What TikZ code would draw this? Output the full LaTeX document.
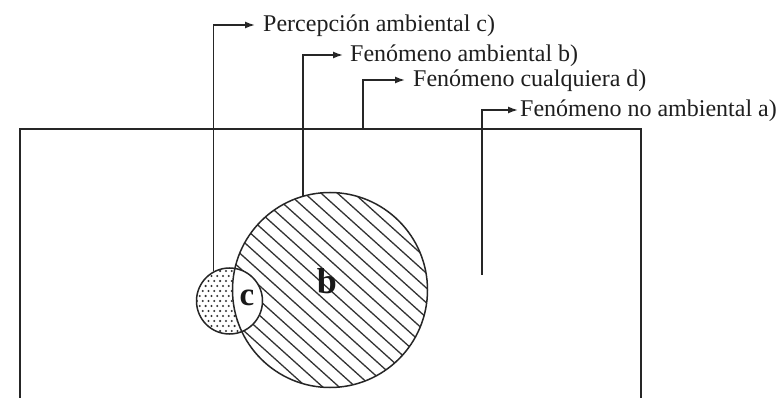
\documentclass[tikz,border=0pt]{standalone}
\usepackage{fontspec}
\setmainfont{Liberation Serif}
\usetikzlibrary{arrows.meta}
\begin{document}
\begin{tikzpicture}[x=1pt,y=-1pt,
  ink/.style={draw=black!85, line width=1.5pt},
  leader/.style={ink, -{Latex[length=10pt,width=7pt]}},
  lbl/.style={anchor=west, inner ysep=0pt, text height=18pt, text depth=4pt,
              font=\fontsize{24}{28}\selectfont, text=black!88},
  hatchline/.style={draw=black!80, line width=1.3pt},
  ring/.style={circle, draw=black!85, line width=1.5pt, inner sep=0pt},
  letter/.style={font=\bfseries\fontsize{36}{40}\selectfont, text=black!90, inner sep=0pt}]
\clip (0,0) rectangle (777,398);
\fill[white] (0,0) rectangle (777,398);
% frame (fenomeno cualquiera)
\node[draw=black!85, line width=2pt, minimum width=621pt, minimum height=300pt,
      anchor=north west, inner sep=0pt] (R) at (19,128) {};
% hatching of b
\begin{scope}
  \clip (330,290) circle (97.5pt);
  \foreach \k in {-10,...,10}
    \draw[hatchline] ({330-7.36*\k-110},{290+8.17*\k-99}) -- ({330-7.36*\k+110},{290+8.17*\k+99});
\end{scope}
% dots of c
\begin{scope}
  \clip (229.5,301) circle (33pt);
  \foreach \j in {0,...,14}
    \foreach \i in {0,...,9}
      \fill[black!80] ({194+\i*5.8+mod(\j,2)*2.9},{266+\j*5}) circle (1.15pt);
\end{scope}
% white intersection
\begin{scope}
  \clip (229.5,301) circle (33pt);
  \fill[white] (330,290) circle (97.5pt);
\end{scope}
% outlines
\node[ring, minimum size=195pt] (B) at (330,290) {};
\node[ring, minimum size=66pt] (C) at (229.5,301) {};
% letters
\node[letter] (bl) at (327,281) {b};
\node[letter, font=\bfseries\fontsize{33}{36}\selectfont] (cl) at (247,298) {c};
% labels
\node[lbl, inner xsep=8pt] (lc) at (255,25) {Percepción ambiental c)};
\node[lbl, inner xsep=7pt] (lb) at (343,55) {Fenómeno ambiental b)};
\node[lbl, inner xsep=8pt] (ld) at (405,80) {Fenómeno cualquiera d)};
\node[lbl, inner xsep=2pt] (la) at (518,110) {Fenómeno no ambiental a)};
% free ends
\coordinate (dfoot) at (363,128);
\coordinate (afoot) at (482,275);
% leaders
\draw[leader] (C.118) |- (lc.west);
\draw[leader] (B.106) |- (lb.west);
\draw[leader] (dfoot) |- (ld.west);
\draw[leader] (afoot) |- (la.west);
\end{tikzpicture}
\end{document}
